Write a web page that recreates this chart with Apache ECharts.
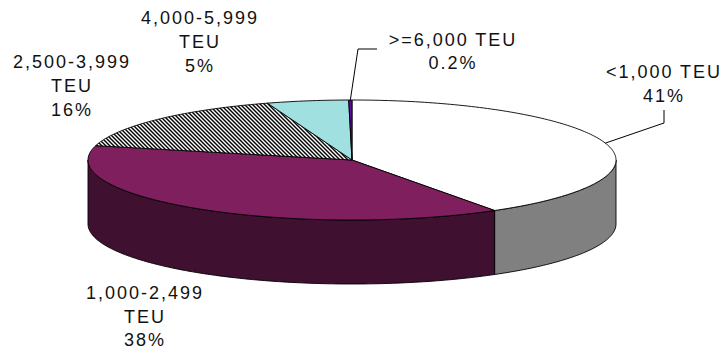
<!DOCTYPE html>
<html>
<head>
<meta charset="utf-8">
<script src="https://cdn.jsdelivr.net/npm/echarts@6/dist/echarts.min.js"></script>
<style>
  html, body { margin: 0; padding: 0; background: #ffffff; }
  #chart { width: 723px; height: 349px; letter-spacing: 2px; }
</style>
</head>
<body>
<div id="chart"></div>
<script>
// Fleet breakdown by vessel size (share of ships, %)
const categories = ['<1,000 TEU', '1,000-2,499 TEU', '2,500-3,999 TEU', '4,000-5,999 TEU', '>=6,000 TEU'];
const shares = [41, 38, 16, 5, 0.2];
// label text split over lines (name lines only; the percentage is appended from shares)
const nameLines = [['<1,000 TEU'], ['1,000-2,499', 'TEU'], ['2,500-3,999', 'TEU'], ['4,000-5,999', 'TEU'], ['>=6,000 TEU']];

// styling per slice
const topColors = ['#ffffff', '#7f1f5e', 'hatch', '#a0e0e0', '#5e0c9e'];
const sideColors = ['#808080', '#401030', '#404040', '#509090', '#30064f'];

// layout: label centre x, first line y, line step; leader elbows in pixels
const labelPos = [[664, 72, 24], [145, 293, 23.5], [72, 62, 24], [200, 18, 24], [453, 40, 23]];
const leaderElbows = [[[664, 123], [664, 110]], null, null, null, [[358, 49], [377, 49]]];

const DEPTH = 64 / 60; // wall height in units of the top-face half height

function hatchPattern() {
  const c = document.createElement('canvas');
  c.width = 8; c.height = 8;
  const g = c.getContext('2d');
  g.fillStyle = '#ffffff';
  g.fillRect(0, 0, 8, 8);
  g.strokeStyle = '#000000';
  g.lineWidth = 1.4;
  for (let k = -12; k <= 12; k += 4) {
    g.beginPath();
    g.moveTo(k - 2, -2);
    g.lineTo(k + 10, 10);
    g.stroke();
  }
  return { image: c.toDataURL(), repeat: 'repeat', imageWidth: 8, imageHeight: 8 };
}
const hatch = hatchPattern();

const total = shares.reduce((a, b) => a + b, 0);
const sliceData = [];
let acc = 0;
shares.forEach((v, i) => {
  const a0 = acc / total * Math.PI * 2;
  acc += v;
  const a1 = acc / total * Math.PI * 2;
  sliceData.push([a0, a1, i, v]);
});

function rim(api, t, drop) {
  return api.coord([Math.sin(t), Math.cos(t) - (drop || 0)]);
}
function arc(api, t0, t1, drop) {
  const pts = [];
  const n = Math.max(2, Math.ceil((t1 - t0) / (Math.PI / 180)));
  for (let k = 0; k <= n; k++) pts.push(rim(api, t0 + (t1 - t0) * k / n, drop));
  return pts;
}

function renderSlice(params, api) {
  const a0 = api.value(0), a1 = api.value(1), i = api.value(2), v = api.value(3);
  const children = [];
  const edge = { stroke: '#000000', lineWidth: 0.9, lineJoin: 'round' };

  // front wall: the part of the slice between 90° and 270° (clockwise from top)
  const s = Math.max(a0, Math.PI / 2), e = Math.min(a1, Math.PI * 1.5);
  if (e > s) {
    const topArc = arc(api, s, e, 0);
    const botArc = arc(api, s, e, DEPTH).reverse();
    children.push({
      type: 'polygon', z2: 1,
      shape: { points: topArc.concat(botArc) },
      style: Object.assign({ fill: sideColors[i] }, edge)
    });
  }

  // top face
  const pts = [api.coord([0, 0])].concat(arc(api, a0, a1, 0));
  children.push({
    type: 'polygon', z2: 5,
    shape: { points: pts },
    style: Object.assign({ fill: topColors[i] === 'hatch' ? hatch : topColors[i] }, edge)
  });

  // label, one text element per line
  const p = labelPos[i];
  nameLines[i].concat([v + '%']).forEach((line, k) => {
    children.push({
      type: 'text', z2: 10,
      x: p[0], y: p[1] + k * p[2],
      style: {
        text: line,
        fill: '#111111',
        font: '18px "Liberation Sans", Arial, sans-serif',
        lineHeight: 18,
        align: 'center',
        verticalAlign: 'middle'
      }
    });
  });

  // leader line from the slice rim
  if (leaderElbows[i]) {
    const mid = (a0 + a1) / 2;
    children.push({
      type: 'polyline', z2: 10,
      shape: { points: [rim(api, mid, 0)].concat(leaderElbows[i]) },
      style: { stroke: '#000000', lineWidth: 1, fill: null }
    });
  }
  return { type: 'group', children };
}

const chart = echarts.init(document.getElementById('chart'), null, { renderer: 'svg' });
chart.setOption({
  animation: false,
  backgroundColor: '#ffffff',
  grid: { left: 88, top: 100, width: 528, height: 120 },
  xAxis: { type: 'value', min: -1, max: 1, show: false },
  yAxis: { type: 'value', min: -1, max: 1, show: false },
  series: [{
    type: 'custom',
    name: 'Share',
    coordinateSystem: 'cartesian2d',
    renderItem: renderSlice,
    clip: false,
    data: sliceData
  }]
});
</script>
</body>
</html>
